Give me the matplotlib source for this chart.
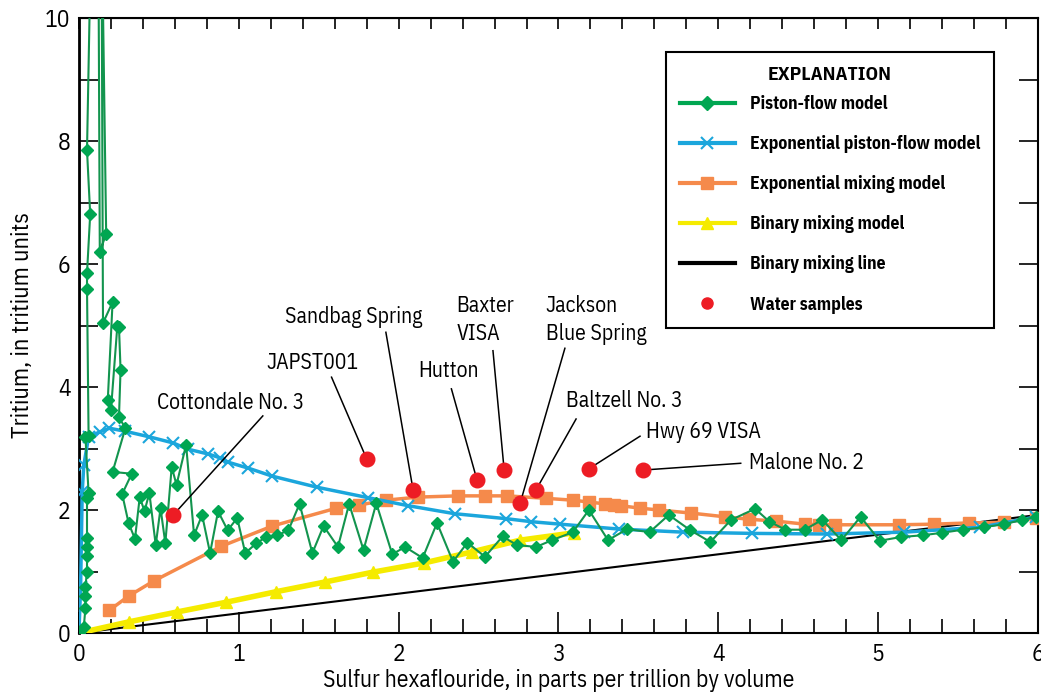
import matplotlib
matplotlib.use("Agg")
import matplotlib.pyplot as plt
from matplotlib.lines import Line2D
from matplotlib.ticker import MultipleLocator

plt.rcParams['font.family'] = ['IBM Plex Sans Condensed', 'DejaVu Sans']

# Piston-flow model (SF6 pptv, tritium TU), ordered by age
piston_x = [0.00, 0.03, 0.04, 0.04, 0.04, 0.05, 0.05, 0.05, 0.05, 0.05, 0.06, 0.04, 0.06,
            0.05, 0.05, 0.07, 0.05, 0.08, 0.12, 0.13, 0.17, 0.14, 0.15, 0.21, 0.18, 0.20,
            0.24, 0.25, 0.26, 0.25, 0.29, 0.21, 0.33, 0.27, 0.31, 0.35,
            0.38, 0.41, 0.44, 0.48, 0.51, 0.54, 0.58, 0.61, 0.67, 0.72, 0.77, 0.82, 0.87,
            0.93, 0.99, 1.04, 1.11, 1.17, 1.24, 1.31, 1.38, 1.46, 1.53, 1.62, 1.69, 1.78,
            1.86, 1.96, 2.04, 2.15, 2.24, 2.34, 2.43, 2.54, 2.65, 2.74, 2.86, 2.96, 3.09,
            3.19, 3.31, 3.43, 3.57, 3.69, 3.82, 3.95, 4.08, 4.23, 4.32, 4.42, 4.54, 4.65,
            4.77, 4.89, 5.01, 5.14, 5.28, 5.40, 5.53, 5.66, 5.79, 5.90, 5.99]
piston_y = [0.00, 0.10, 0.40, 0.60, 0.75, 1.00, 1.25, 1.40, 1.55, 2.20, 2.28, 3.19, 3.20,
            5.60, 5.85, 6.81, 7.85, 12.0, 12.0, 6.20, 6.49, 12.0, 5.04, 5.38, 3.79, 3.63,
            5.00, 4.98, 4.28, 3.51, 3.33, 2.62, 2.59, 2.26, 1.79, 1.53,
            2.21, 1.98, 2.28, 1.43, 2.03, 1.46, 2.70, 2.41, 3.06, 1.59, 1.92, 1.30, 1.98,
            1.67, 1.87, 1.30, 1.46, 1.56, 1.59, 1.67, 2.10, 1.30, 1.74, 1.40, 2.10, 1.35,
            2.11, 1.28, 1.40, 1.22, 1.79, 1.16, 1.47, 1.24, 1.57, 1.43, 1.40, 1.51, 1.64,
            2.00, 1.51, 1.69, 1.64, 1.92, 1.68, 1.48, 1.84, 2.02, 1.81, 1.68, 1.68, 1.84,
            1.51, 1.89, 1.50, 1.56, 1.59, 1.63, 1.68, 1.72, 1.77, 1.84, 1.89]

# Exponential piston-flow model
epm_x = [0.00, 0.01, 0.02, 0.03, 0.06, 0.13, 0.19, 0.29, 0.44, 0.59, 0.68, 0.81, 0.88,
         0.93, 1.06, 1.21, 1.49, 1.81, 2.06, 2.35, 2.67, 2.83, 3.01, 3.38, 3.78, 4.21,
         4.68, 5.16, 5.64, 5.99]
epm_y = [0.05, 0.75, 2.30, 2.73, 3.19, 3.27, 3.33, 3.28, 3.19, 3.09, 2.99, 2.91, 2.85,
         2.78, 2.68, 2.55, 2.37, 2.20, 2.07, 1.94, 1.86, 1.81, 1.77, 1.69, 1.64, 1.62,
         1.61, 1.64, 1.72, 1.89]

# Exponential mixing model
emm_x = [0.19, 0.31, 0.47, 0.89, 1.21, 1.61, 1.75, 1.92, 2.12, 2.37, 2.54, 2.68, 2.92,
         3.09, 3.19, 3.29, 3.35, 3.39, 3.51, 3.63, 3.83, 4.04, 4.19, 4.36, 4.54, 4.63,
         4.73, 5.13, 5.35, 5.57, 5.79, 5.99]
emm_y = [0.37, 0.60, 0.85, 1.41, 1.74, 2.03, 2.08, 2.16, 2.21, 2.23, 2.23, 2.23, 2.19,
         2.16, 2.13, 2.10, 2.08, 2.07, 2.03, 2.00, 1.95, 1.89, 1.85, 1.82, 1.77, 1.76,
         1.76, 1.76, 1.77, 1.79, 1.80, 1.87]

# Binary mixing model
bmm_x = [0.00, 0.31, 0.61, 0.92, 1.23, 1.54, 1.84, 2.16, 2.46, 2.76, 3.10]
bmm_y = [0.00, 0.18, 0.34, 0.50, 0.67, 0.83, 0.99, 1.14, 1.32, 1.51, 1.63]

# Binary mixing line end members
mix_x = [0.0, 6.0]
mix_y = [0.0, 1.92]

# Water samples
sample_names = ["Cottondale No. 3", "JAPST001", "Sandbag Spring", "Hutton", "Baxter\nVISA",
                "Jackson\nBlue Spring", "Baltzell No. 3", "Hwy 69 VISA", "Malone No. 2"]
sample_x = [0.59, 1.80, 2.09, 2.49, 2.66, 2.76, 2.86, 3.19, 3.53]
sample_y = [1.92, 2.83, 2.33, 2.49, 2.65, 2.11, 2.33, 2.67, 2.65]

# label placement: text x, text y, alignment, leader start x, leader start y
label_pos = [(0.95, 3.74, "center", 1.15, 3.53),
             (1.46, 4.39, "center", 1.58, 4.16),
             (1.72, 5.14, "center", 1.92, 4.89),
             (2.31, 4.26, "center", 2.33, 3.97),
             (2.36, 5.09, "left", 2.59, 4.59),
             (2.92, 5.09, "left", 3.04, 4.63),
             (3.05, 3.77, "left", 3.11, 3.48),
             (3.55, 3.27, "left", 3.51, 3.20),
             (4.19, 2.76, "left", 4.14, 2.76)]

GREEN = "#00a651"
BLUE = "#1ba6dc"
ORANGE = "#f58a4b"
YELLOW = "#f5eb00"
RED = "#ed1c24"

fig = plt.figure(figsize=(10.41, 6.96), dpi=100)
ax = fig.add_axes([0.0759, 0.0905, 0.9212, 0.8836])

ax.plot(mix_x, mix_y, color="black", lw=1.5, zorder=2)
ax.plot(bmm_x, bmm_y, color=YELLOW, lw=4, marker="^", ms=8, zorder=3)
ax.plot(emm_x, emm_y, color=ORANGE, lw=2.5, marker="s", ms=8, zorder=4)
ax.plot(epm_x, epm_y, color=BLUE, lw=2.5, marker="x", ms=9, mew=1.5, zorder=5)
ax.plot(piston_x, piston_y, color="#13944e", lw=1.5, marker="D", ms=6.5,
        mfc=GREEN, mec=GREEN, zorder=6)
ax.scatter(sample_x, sample_y, s=110, color=RED, zorder=8)

for name, sx, sy, (tx, ty, ha, lx, ly) in zip(sample_names, sample_x, sample_y, label_pos):
    ax.plot([lx, sx], [ly, sy], color="black", lw=1.1, zorder=7)
    ax.text(tx, ty, name, ha=ha, va="center", fontsize=15.6, linespacing=1.4, zorder=9)

ax.set_xlim(0, 6)
ax.set_ylim(0, 10)
ax.xaxis.set_major_locator(MultipleLocator(1))
ax.xaxis.set_minor_locator(MultipleLocator(0.2))
ax.yaxis.set_major_locator(MultipleLocator(2))
ax.yaxis.set_minor_locator(MultipleLocator(1))
ax.tick_params(axis="x", which="both", direction="in", labelsize=17, width=1.2, pad=7)
ax.tick_params(axis="x", which="major", length=15)
ax.tick_params(axis="x", which="minor", length=10)
ax.tick_params(axis="y", which="both", direction="in", length=14, width=1.2,
               labelsize=17, right=True, pad=6)

top = ax.secondary_xaxis("top")
top.xaxis.set_major_locator(MultipleLocator(1))
top.xaxis.set_minor_locator(MultipleLocator(0.2))
top.tick_params(which="both", direction="in", length=8, width=1.2, labeltop=False)

for sp in ax.spines.values():
    sp.set_linewidth(1.5)
ax.spines["left"].set_linewidth(2)

ax.set_xlabel("Sulfur hexaflouride, in parts per trillion by volume", fontsize=17, labelpad=2)
ax.set_ylabel("Tritium, in tritium units", fontsize=17.5, labelpad=8)

handles = [
    Line2D([], [], color=GREEN, lw=3, marker="D", ms=7),
    Line2D([], [], color=BLUE, lw=3, marker="x", ms=9, mew=1.5),
    Line2D([], [], color=ORANGE, lw=3, marker="s", ms=8),
    Line2D([], [], color=YELLOW, lw=3, marker="^", ms=8),
    Line2D([], [], color="black", lw=3),
    Line2D([], [], color=RED, lw=0, marker="o", ms=8),
]
labels = ["Piston-flow model", "Exponential piston-flow model", "Exponential mixing model",
          "Binary mixing model", "Binary mixing line", "Water samples"]
leg = ax.legend(handles, labels, loc="upper left", bbox_to_anchor=(0.612, 0.9447),
                borderaxespad=0, frameon=True, fancybox=False, edgecolor="black",
                framealpha=1, prop={"weight": "bold", "size": 12.7},
                title="EXPLANATION", title_fontproperties={"weight": "bold", "size": 14},
                handlelength=3.1, handletextpad=0.85, labelspacing=1.25, borderpad=0.8)
# tighter gap between the title and the first entry
leg._legend_box.sep = 8
leg.get_frame().set_linewidth(1.5)
leg.set_zorder(10)

fig.savefig("out.png", dpi=100)
